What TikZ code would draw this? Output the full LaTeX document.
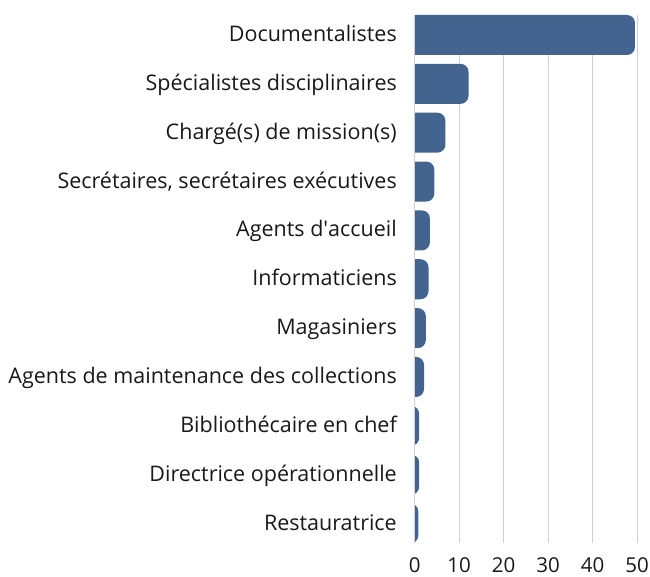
\documentclass[tikz,border=0pt]{standalone}
\usepackage{fontspec}
\setmainfont{Open Sans}
\usetikzlibrary{calc}

\begin{document}
\begin{tikzpicture}
			[x=1pt,y=-1pt,
			%Styles
			grid line/.style={draw=gridgray,line width=1.2pt},
			bar/.style={fill=barblue,rounded corners=8pt},
			category text/.style={anchor=base east,inner sep=0pt,text=labelgray,font=\fontsize{21.5}{26}\selectfont},
			tick text/.style={anchor=center,inner sep=0pt,text=labelgray,font=\fontsize{20.5}{26}\selectfont}
			]
			
			%Colors
			\definecolor{barblue}{RGB}{67,100,143}	%bars
			\definecolor{gridgray}{RGB}{208,208,208}	%grid and axis
			\definecolor{labelgray}{RGB}{25,25,25}	%texts
			
			\useasboundingbox (0,0) rectangle (650,577);
			
			%The graphic
			\foreach \v in {10,20,...,50}
				\draw[grid line] ({414.7+4.45*\v},15) -- ({414.7+4.45*\v},543.3);
			
			\foreach \v in {0,10,...,50}
				\node[tick text] (tick\v) at ({414.7+4.45*\v},565.5) {\v};
			
			\begin{scope}
				\clip (414.7,0) rectangle (650,577);
				\foreach \v [count=\i from 0] in {49.5,12.1,6.9,4.4,3.4,3.1,2.5,2.1,1,1,0.8}
					\fill[bar] (400,{15+48.85*\i}) rectangle ({414.7+4.45*\v},{55+48.85*\i});
			\end{scope}
			
			\draw[grid line] (414.7,15) -- (414.7,543.3);
			
			\foreach \t [count=\i from 0] in {Documentalistes,
					Spécialistes disciplinaires,
					Chargé(s) de mission(s),
					{Secrétaires, secrétaires exécutives},
					Agents d\textquotesingle accueil,
					Informaticiens,
					Magasiniers,
					Agents de maintenance des collections,
					Bibliothécaire en chef,
					Directrice opérationnelle,
					Restauratrice}
				\node[category text] (cat\i) at (397,{41.5+48.85*\i}) {\t};
		\end{tikzpicture}
\end{document}
